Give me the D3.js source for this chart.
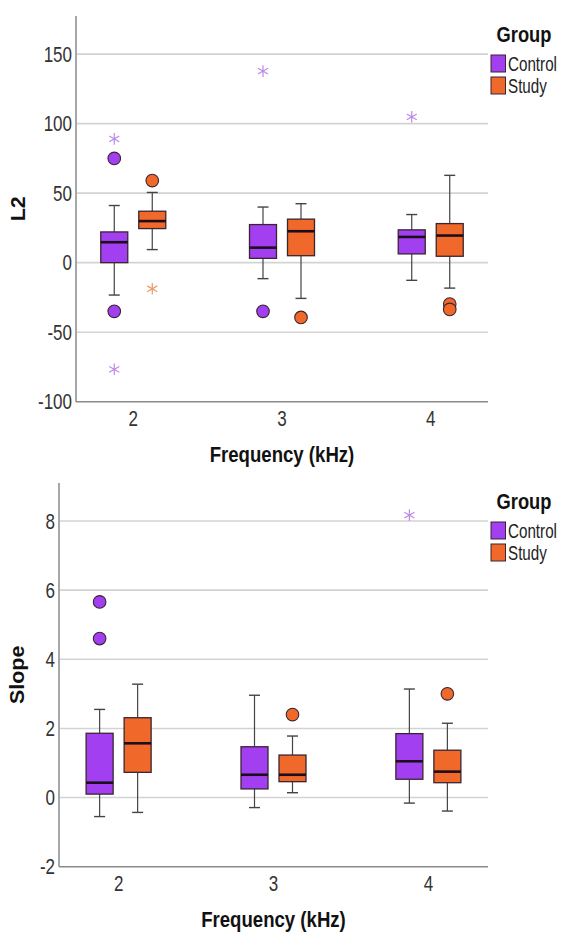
<!DOCTYPE html>
<html>
<head>
<meta charset="utf-8">
<script src="https://cdn.jsdelivr.net/npm/d3@7"></script>
<style>
  body { margin: 0; background: #fff; }
  svg { display: block; font-family: "Liberation Sans", Arial, sans-serif; }
</style>
</head>
<body>
<div id="chart"></div>
<script>
// categories
const freqs = ["2", "3", "4"];
const groups = ["Control", "Study"];

// box stats per frequency: [whisker low, Q1, median, Q3, whisker high]
const l2Control = [[-23.3, 0, 14.7, 22.1, 41.1], [-11.5, 3.1, 10.8, 27.4, 40], [-12.7, 6.3, 18.5, 23.6, 34.6]];
const l2Study = [[9.4, 24.5, 29.9, 37, 50.5], [-25.7, 5, 22.6, 31.3, 42.4], [-18.3, 4.6, 19.5, 28.1, 62.8]];
const l2Outliers = [
  { freq: "2", group: "Control", value: 75, kind: "circle" },
  { freq: "2", group: "Control", value: -35, kind: "circle" },
  { freq: "2", group: "Control", value: 89, kind: "star" },
  { freq: "2", group: "Control", value: -76.7, kind: "star" },
  { freq: "2", group: "Study", value: 59, kind: "circle" },
  { freq: "2", group: "Study", value: -18.8, kind: "star" },
  { freq: "3", group: "Control", value: -35, kind: "circle" },
  { freq: "3", group: "Control", value: 137.8, kind: "star" },
  { freq: "3", group: "Study", value: -39.4, kind: "circle" },
  { freq: "4", group: "Control", value: 104.9, kind: "star" },
  { freq: "4", group: "Study", value: -29.8, kind: "circle" },
  { freq: "4", group: "Study", value: -33.6, kind: "circle" }
];
const l2Ticks = [-100, -50, 0, 50, 100, 150];

const slopeControl = [[-0.55, 0.1, 0.43, 1.86, 2.55], [-0.29, 0.25, 0.66, 1.47, 2.96], [-0.16, 0.53, 1.05, 1.85, 3.14]];
const slopeStudy = [[-0.43, 0.73, 1.57, 2.31, 3.28], [0.14, 0.46, 0.66, 1.23, 1.78], [-0.39, 0.43, 0.75, 1.37, 2.15]];
const slopeOutliers = [
  { freq: "2", group: "Control", value: 5.66, kind: "circle" },
  { freq: "2", group: "Control", value: 4.6, kind: "circle" },
  { freq: "3", group: "Study", value: 2.4, kind: "circle" },
  { freq: "4", group: "Control", value: 8.17, kind: "star" },
  { freq: "4", group: "Study", value: 3.0, kind: "circle" }
];
const slopeTicks = [-2, 0, 2, 4, 6, 8];

const fillColors = { Control: "#a23ff0", Study: "#f0682a" };
const starColors = { Control: "#bd8ae8", Study: "#eb9a6c" };

const W = 567, H = 941;
const svg = d3.select("#chart").append("svg").attr("width", W).attr("height", H);

// text in the source is stretched vertically
function label(g, x, y, txt, opts) {
  const o = Object.assign({ size: 17, weight: "normal", anchor: "middle", sy: 1.25, rotate: 0, fill: "#333" }, opts);
  const tr = o.rotate ? `translate(${x},${y}) rotate(${o.rotate}) scale(${o.sy},1)` : `translate(${x},${y}) scale(1,${o.sy})`;
  g.append("text")
    .attr("transform", tr)
    .attr("text-anchor", o.anchor)
    .attr("dy", "0.36em")
    .style("font-size", o.size + "px")
    .style("font-weight", o.weight)
    .style("fill", o.fill)
    .text(txt);
}

function drawPanel(p) {
  const g = svg.append("g");
  const x = d3.scalePoint().domain(freqs).range([p.left, p.right]).padding(0.385);
  const off = d3.scalePoint().domain(groups).range([-19, 19]);
  const y = d3.scaleLinear().domain(p.yDomain).range([p.bottom, p.top]);
  const boxW = 27, capW = 11;

  // gridlines
  g.selectAll(".grid").data(p.ticks.filter(t => t !== p.yDomain[0])).enter().append("line")
    .attr("x1", p.left + 1).attr("x2", p.right)
    .attr("y1", d => y(d)).attr("y2", d => y(d))
    .style("stroke", "#d3d3d3").style("stroke-width", 1.6);

  // axes
  g.append("line").attr("x1", p.left).attr("x2", p.left).attr("y1", p.top).attr("y2", p.bottom)
    .style("stroke", "#8a8a8a").style("stroke-width", 1.5);
  g.append("line").attr("x1", p.left).attr("x2", p.right).attr("y1", p.bottom).attr("y2", p.bottom)
    .style("stroke", "#8a8a8a").style("stroke-width", 1.5);

  p.ticks.forEach(t => label(g, p.left - 4, y(t), t, { anchor: "end" }));
  freqs.forEach(f => label(g, x(f), p.bottom + 17, f));

  label(g, (p.left + p.right) / 2, p.bottom + 52, "Frequency (kHz)", { size: 18.6, weight: "bold", fill: "#111", sy: 1.22 });
  label(g, p.yLabelX, (p.top + p.bottom) / 2, p.yLabel, { size: 19.5, weight: "bold", fill: "#111", rotate: -90, sy: 1.1 });

  // boxes
  groups.forEach(grp => {
    const stats = p.stats[grp];
    stats.forEach((s, i) => {
      const cx = x(freqs[i]) + off(grp);
      const [lo, q1, med, q3, hi] = s;
      const b = g.append("g");
      b.append("line").attr("x1", cx).attr("x2", cx).attr("y1", y(hi)).attr("y2", y(q3))
        .style("stroke", "#444").style("stroke-width", 1.2);
      b.append("line").attr("x1", cx).attr("x2", cx).attr("y1", y(q1)).attr("y2", y(lo))
        .style("stroke", "#444").style("stroke-width", 1.2);
      [lo, hi].forEach(v => b.append("line")
        .attr("x1", cx - capW / 2).attr("x2", cx + capW / 2).attr("y1", y(v)).attr("y2", y(v))
        .style("stroke", "#444").style("stroke-width", 1.4));
      b.append("rect").attr("x", cx - boxW / 2).attr("width", boxW)
        .attr("y", y(q3)).attr("height", y(q1) - y(q3))
        .style("fill", fillColors[grp]).style("stroke", "#3b2530").style("stroke-width", 1.3);
      b.append("line").attr("x1", cx - boxW / 2).attr("x2", cx + boxW / 2).attr("y1", y(med)).attr("y2", y(med))
        .style("stroke", "#1c0f1c").style("stroke-width", 2.6);
    });
  });

  // outliers
  const pts = p.outliers;
  g.selectAll(".outCircle").data(pts.filter(d => d.kind === "circle")).enter().append("circle")
    .attr("cx", d => x(d.freq) + off(d.group)).attr("cy", d => y(d.value)).attr("r", 6.3)
    .style("fill", d => fillColors[d.group]).style("stroke", "#3b2530").style("stroke-width", 1.1);
  g.selectAll(".outStar").data(pts.filter(d => d.kind === "star")).enter().append("path")
    .attr("transform", d => `translate(${x(d.freq) + off(d.group)},${y(d.value)})`)
    .attr("d", d3.symbol().type(d3.symbolAsterisk).size(95))
    .style("fill", "none").style("stroke", d => starColors[d.group]).style("stroke-width", 1.2);

  // legend
  const lx = 491;
  label(g, 524, p.top + 18, "Group", { size: 18.3, weight: "bold", fill: "#111", sy: 1.25 });
  groups.forEach((grp, i) => {
    const ly = p.top + 39 + i * 22;
    g.append("rect").attr("x", lx).attr("y", ly).attr("width", 14.5).attr("height", 17)
      .style("fill", fillColors[grp]).style("stroke", "#3b2530").style("stroke-width", 1);
    label(g, lx + 17, ly + 9, grp, { size: 15.2, anchor: "start", sy: 1.32, fill: "#222" });
  });
}

drawPanel({
  left: 76, right: 488, top: 16, bottom: 401.7,
  yDomain: [-100, 177.4], ticks: l2Ticks,
  stats: { Control: l2Control, Study: l2Study }, outliers: l2Outliers,
  yLabel: "L2", yLabelX: 18
});

drawPanel({
  left: 59, right: 488, top: 483, bottom: 866.7,
  yDomain: [-2, 9.1], ticks: slopeTicks,
  stats: { Control: slopeControl, Study: slopeStudy }, outliers: slopeOutliers,
  yLabel: "Slope", yLabelX: 17
});
</script>
</body>
</html>
